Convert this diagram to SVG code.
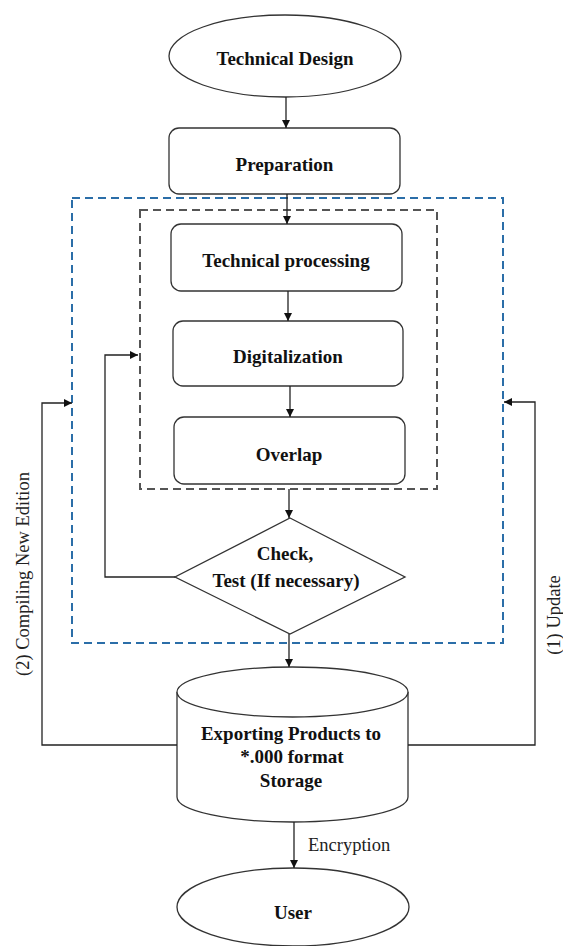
<svg xmlns="http://www.w3.org/2000/svg" width="563" height="946" viewBox="0 0 563 946">
<defs>
<style>
.n{fill:#fff;stroke:#333;stroke-width:1.3}
.t{font-family:"Liberation Serif","Times New Roman",serif;font-weight:bold;font-size:19px;fill:#111;text-anchor:middle}
.l{font-family:"Liberation Serif","Times New Roman",serif;font-size:18.5px;fill:#222}
.c{fill:none;stroke:#222;stroke-width:1.3}
.blue{fill:none;stroke:#2b6ea8;stroke-width:2;stroke-dasharray:8 5}
.gray{fill:none;stroke:#555;stroke-width:2;stroke-dasharray:8 5}
</style>
<marker id="ah" viewBox="0 0 10 10" refX="10" refY="5" markerWidth="8" markerHeight="8" markerUnits="userSpaceOnUse" orient="auto">
<path d="M0,0 L10,5 L0,10 Z" fill="#111"/>
</marker>
</defs>
<rect width="563" height="946" fill="#fff"/>
<g id="frames">
<rect class="blue" x="72" y="198" width="431" height="445"/>
<rect class="gray" x="140" y="210" width="297" height="279"/>
</g>
<g id="technical-design">
<ellipse class="n" cx="285" cy="56" rx="116" ry="41"/>
<text class="t" x="285" y="65">Technical Design</text>
</g>
<g id="preparation">
<rect class="n" x="169" y="128" width="231" height="66" rx="10"/>
<text class="t" x="284.5" y="171">Preparation</text>
</g>
<g id="technical-processing">
<rect class="n" x="171" y="224" width="231" height="67" rx="10"/>
<text class="t" x="286" y="267">Technical processing</text>
</g>
<g id="digitalization">
<rect class="n" x="173" y="321" width="230" height="65" rx="10"/>
<text class="t" x="288" y="363">Digitalization</text>
</g>
<g id="overlap">
<rect class="n" x="174" y="417" width="231" height="67" rx="10"/>
<text class="t" x="289" y="461">Overlap</text>
</g>
<g id="check">
<polygon class="n" points="290,518 405,577 290,634 175,577"/>
<text class="t" x="285" y="560">Check,</text>
<text class="t" x="286" y="587">Test (If necessary)</text>
</g>
<g id="storage">
<path class="n" d="M177,692 A115.5,25 0 0,1 408,692 L408,797 A115.5,25 0 0,1 177,797 Z"/>
<path class="n" fill="none" d="M177,692 A115.5,25 0 0,0 408,692"/>
<text class="t" x="291" y="740">Exporting Products to</text>
<text class="t" x="292" y="763">*.000 format</text>
<text class="t" x="291" y="787">Storage</text>
</g>
<g id="user">
<ellipse class="n" cx="293" cy="907" rx="116" ry="39"/>
<text class="t" x="293" y="919">User</text>
</g>
<g id="connectors">
<line class="c" x1="286" y1="97" x2="286" y2="128" marker-end="url(#ah)"/>
<line class="c" x1="287" y1="194" x2="287" y2="224" marker-end="url(#ah)"/>
<line class="c" x1="288" y1="291" x2="288" y2="321" marker-end="url(#ah)"/>
<line class="c" x1="290" y1="386" x2="290" y2="417" marker-end="url(#ah)"/>
<line class="c" x1="289" y1="489" x2="289" y2="518" marker-end="url(#ah)"/>
<polyline class="c" points="175,577 105,577 105,355 138,355" marker-end="url(#ah)"/>
<line class="c" x1="289" y1="634" x2="289" y2="667" marker-end="url(#ah)"/>
<polyline class="c" points="177,745 42,745 42,403 72,403" marker-end="url(#ah)"/>
<polyline class="c" points="408,745 535,745 535,402 504,402" marker-end="url(#ah)"/>
<line class="c" x1="294" y1="822" x2="294" y2="868" marker-end="url(#ah)"/>
<text class="l" x="308" y="851">Encryption</text>
<text class="l" x="29" y="574" text-anchor="middle" transform="rotate(-90 29 574)">(2) Compiling New Edition</text>
<text class="l" x="560" y="615" text-anchor="middle" transform="rotate(-90 560 615)">(1) Update</text>
</g>
</svg>
